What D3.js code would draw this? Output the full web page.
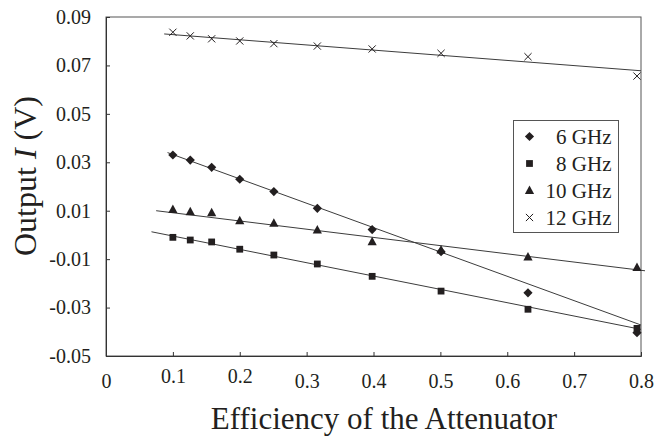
<!DOCTYPE html>
<html>
<head>
<meta charset="utf-8">
<script src="https://cdn.jsdelivr.net/npm/d3@7"></script>
<style>
  body { margin: 0; background: #fff; }
</style>
</head>
<body>
<svg id="chart" width="672" height="448" font-family="Liberation Serif"></svg>
<script>
// DATA
var efficiency = [0.1, 0.126, 0.158, 0.2, 0.251, 0.316, 0.398, 0.501, 0.631, 0.794];
var ghz6  = [0.0330, 0.0309, 0.0279, 0.0230, 0.0179, 0.0110, 0.0022, -0.0069, -0.0239, -0.0404];
var ghz8  = [-0.0010, -0.0021, -0.0029, -0.0059, -0.0083, -0.0120, -0.0171, -0.0232, -0.0307, -0.0386];
var ghz10 = [0.0105, 0.0096, 0.0092, 0.0059, 0.0048, 0.0020, -0.0028, -0.0062, -0.0091, -0.0134];
var ghz12 = [0.0837, 0.0822, 0.0810, 0.0801, 0.0790, 0.0780, 0.0768, 0.0750, 0.0736, 0.0656];
var seriesNames = ["6 GHz", "8 GHz", "10 GHz", "12 GHz"];
var markerTypes = ["diamond", "square", "triangle", "cross"];

// trendline end points
var trendX0 = [0.092, 0.068, 0.075, 0.087];
var trendY0 = [0.0340, 0.0013, 0.0100, 0.0830];
var trendX1 = [0.8, 0.8, 0.806, 0.8];
var trendY1 = [-0.0372, -0.0390, -0.0148, 0.0678];

var xTicks = [0, 0.1, 0.2, 0.3, 0.4, 0.5, 0.6, 0.7, 0.8];
var xTickLabels = ["0", "0.1", "0.2", "0.3", "0.4", "0.5", "0.6", "0.7", "0.8"];
var yTicks = [-0.05, -0.03, -0.01, 0.01, 0.03, 0.05, 0.07, 0.09];
var yTickLabels = ["-0.05", "-0.03", "-0.01", "0.01", "0.03", "0.05", "0.07", "0.09"];

var allSeries = [ghz6, ghz8, ghz10, ghz12];

// LAYOUT
var margin = {top: 17, right: 31, bottom: 92, left: 106};
var width = 672 - margin.left - margin.right;
var height = 448 - margin.top - margin.bottom;
var FONT = "Liberation Serif";

var svg = d3.select("#chart");
var g = svg.append("g").attr("transform", "translate(" + margin.left + "," + margin.top + ")");

var x = d3.scaleLinear().domain([0, 0.8]).range([0, width]);
var y = d3.scaleLinear().domain([-0.05, 0.09]).range([height, 0]);

var ink = "#231f20";
var lineInk = "#3c3c3c";

// frame
g.append("rect")
  .attr("x", 0).attr("y", 0)
  .attr("width", width).attr("height", height)
  .attr("fill", "none").attr("stroke", "#555").attr("stroke-width", 1);

// axes
var yAxis = g.append("g")
  .call(d3.axisLeft(y).tickValues(yTicks).tickSize(-4).tickPadding(15)
    .tickFormat(function(d, i) { return yTickLabels[i]; }));
yAxis.attr("font-family", FONT);
yAxis.select(".domain").attr("stroke", "#333");
yAxis.selectAll(".tick line").attr("stroke", "#333");
yAxis.selectAll("text").attr("font-family", FONT).attr("font-size", 20).attr("fill", ink);

var xAxis = g.append("g")
  .attr("transform", "translate(0," + height + ")")
  .call(d3.axisBottom(x).tickValues(xTicks).tickSize(-4).tickPadding(18)
    .tickFormat(function(d, i) { return xTickLabels[i]; }));
xAxis.attr("font-family", FONT);
xAxis.select(".domain").attr("stroke", "#333");
xAxis.selectAll(".tick line").attr("stroke", "#333");
// 0.1 and 0.2 sit a little higher in the original
xAxis.selectAll("text").attr("font-family", FONT).attr("font-size", 20).attr("fill", ink)
  .attr("y", function(d) { return (d === 0.1 || d === 0.2) ? 13 : 18; });

// trend lines
allSeries.forEach(function(s, k) {
  g.append("line")
    .attr("x1", x(trendX0[k])).attr("y1", y(trendY0[k]))
    .attr("x2", x(trendX1[k])).attr("y2", y(trendY1[k]))
    .attr("stroke", lineInk).attr("stroke-width", 1);
});

// markers
function drawMarker(sel, type) {
  if (type === "cross") {
    sel.append("path")
      .attr("d", "M-3.6,-3.6L3.6,3.6M-3.6,3.6L3.6,-3.6")
      .attr("stroke", ink).attr("stroke-width", 1).attr("fill", "none");
  } else if (type === "diamond") {
    sel.append("path")
      .attr("d", "M0,-4.6L4.6,0L0,4.6L-4.6,0Z")
      .attr("fill", ink);
  } else if (type === "square") {
    sel.append("path")
      .attr("d", "M-3.4,-3.4H3.4V3.4H-3.4Z")
      .attr("fill", ink);
  } else {
    sel.append("path")
      .attr("d", "M0,-5L4.6,3.5H-4.6Z")
      .attr("fill", ink);
  }
}

allSeries.forEach(function(s, k) {
  var pts = g.append("g").selectAll("g")
    .data(s.map(function(v, i) { return {x: efficiency[i], y: v}; }))
    .enter().append("g")
    .attr("transform", function(d) { return "translate(" + x(d.x) + "," + y(d.y) + ")"; });
  drawMarker(pts, markerTypes[k]);
});

// legend
var legend = svg.append("g").attr("transform", "translate(513.5,120.5)");
legend.append("rect")
  .attr("width", 105).attr("height", 112)
  .attr("fill", "#fff").attr("stroke", "#555").attr("stroke-width", 1);
seriesNames.forEach(function(name, k) {
  var row = legend.append("g").attr("transform", "translate(0," + (16 + k * 27) + ")");
  var m = row.append("g").attr("transform", "translate(16,0)");
  drawMarker(m, markerTypes[k]);
  row.append("text")
    .attr("x", 98).attr("y", 7)
    .attr("text-anchor", "end")
    .attr("font-family", FONT)
    .attr("font-size", 21)
    .attr("fill", ink)
    .text(name);
});

// axis titles
svg.append("text")
  .attr("x", 384).attr("y", 429)
  .attr("text-anchor", "middle")
  .attr("font-family", FONT)
  .attr("font-size", 31)
  .attr("fill", ink)
  .text("Efficiency of the Attenuator");

var yt = svg.append("text")
  .attr("transform", "translate(36,176) rotate(-90)")
  .attr("text-anchor", "middle")
  .attr("font-family", FONT)
  .attr("font-size", 32)
  .attr("fill", ink);
yt.append("tspan").text("Output ");
yt.append("tspan").attr("font-style", "italic").text("I");
yt.append("tspan").text(" (V)");
</script>
</body>
</html>
